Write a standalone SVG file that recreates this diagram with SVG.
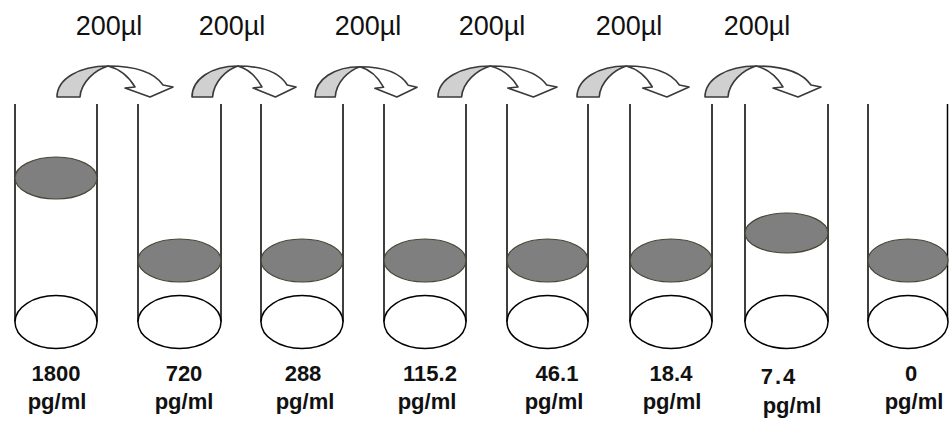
<svg xmlns="http://www.w3.org/2000/svg" xmlns:xlink="http://www.w3.org/1999/xlink" width="949" height="421" viewBox="0 0 949 421">
<style>
.wall{stroke:#000;stroke-width:1.5;fill:none}
.liq{fill:#7f7f7f;stroke:#4a4535;stroke-width:1.2}
.base{fill:#fff;stroke:#000;stroke-width:1.5}
.val{font-family:"Liberation Sans",Arial,sans-serif;font-weight:bold;font-size:22px;fill:#111;text-anchor:middle}
.vol{font-family:"Liberation Sans",Arial,sans-serif;font-size:27px;fill:#111;text-anchor:middle}
.back{fill:#d0d0d0;stroke:#3a3a3a;stroke-width:1.6;stroke-linejoin:round;vector-effect:non-scaling-stroke}
.front{fill:#fff;stroke:#3a3a3a;stroke-width:1.6;stroke-linejoin:round;vector-effect:non-scaling-stroke}
</style>
<defs>
<g id="curved">
<path class="back" d="M0,97 C0,79 22,66 51,66 C38,70 24,82 23,97 Z"/>
<path class="front" d="M51,66 C78,66 97,72 106,85 L116,87 L93,97 L68,88 L78,87 C72,77 63,69 51,66 Z"/>
</g>
</defs>
<rect width="949" height="421" fill="#fff"/>
<g id="connectors">
<use xlink:href="#curved" href="#curved" transform="translate(57,0)"/>
<use xlink:href="#curved" href="#curved" transform="translate(192,0) scale(0.897,1)"/>
<use xlink:href="#curved" href="#curved" transform="translate(315,2) scale(0.88,0.98)"/>
<use xlink:href="#curved" href="#curved" transform="translate(438,0) scale(1.026,1)"/>
<use xlink:href="#curved" href="#curved" transform="translate(577,0) scale(0.966,1)"/>
<use xlink:href="#curved" href="#curved" transform="translate(705,0)"/>
<text class="vol" x="109" y="35">200µl</text>
<text class="vol" x="232" y="35">200µl</text>
<text class="vol" x="368" y="35">200µl</text>
<text class="vol" x="492" y="35">200µl</text>
<text class="vol" x="629" y="35">200µl</text>
<text class="vol" x="757" y="35">200µl</text>
</g>
<g id="tube1">
<path class="wall" d="M15,104 V322 M97,104 V322"/>
<ellipse class="liq" cx="56" cy="178" rx="41" ry="21"/>
<ellipse class="base" cx="56" cy="322" rx="41" ry="26.5"/>
<text class="val" x="56" y="381">1800</text>
<text class="val" x="57" y="409">pg/ml</text>
</g>
<g id="tube2">
<path class="wall" d="M138,104 V322 M221,104 V322"/>
<ellipse class="liq" cx="179.5" cy="260.5" rx="41.5" ry="21.5"/>
<ellipse class="base" cx="179.5" cy="322" rx="41.5" ry="26.5"/>
<text class="val" x="184" y="381">720</text>
<text class="val" x="184" y="409">pg/ml</text>
</g>
<g id="tube3">
<path class="wall" d="M261,104 V322 M343,104 V322"/>
<ellipse class="liq" cx="302" cy="260.5" rx="41" ry="21.5"/>
<ellipse class="base" cx="302" cy="322" rx="41" ry="26.5"/>
<text class="val" x="303" y="381">288</text>
<text class="val" x="305" y="409">pg/ml</text>
</g>
<g id="tube4">
<path class="wall" d="M384,104 V322 M466,104 V322"/>
<ellipse class="liq" cx="425" cy="260.5" rx="41" ry="21.5"/>
<ellipse class="base" cx="425" cy="322" rx="41" ry="26.5"/>
<text class="val" x="430" y="381">115.2</text>
<text class="val" x="427" y="409">pg/ml</text>
</g>
<g id="tube5">
<path class="wall" d="M507,104 V322 M588,104 V322"/>
<ellipse class="liq" cx="547.5" cy="260.5" rx="40.5" ry="21.5"/>
<ellipse class="base" cx="547.5" cy="322" rx="40.5" ry="26.5"/>
<text class="val" x="557" y="381">46.1</text>
<text class="val" x="554" y="409">pg/ml</text>
</g>
<g id="tube6">
<path class="wall" d="M630,104 V322 M712,104 V322"/>
<ellipse class="liq" cx="671" cy="260.5" rx="41" ry="21.5"/>
<ellipse class="base" cx="671" cy="322" rx="41" ry="26.5"/>
<text class="val" x="671" y="381">18.4</text>
<text class="val" x="672" y="409">pg/ml</text>
</g>
<g id="tube7">
<path class="wall" d="M745,104 V322 M828,104 V322"/>
<ellipse class="liq" cx="786.5" cy="233" rx="41.5" ry="20"/>
<ellipse class="base" cx="786.5" cy="322" rx="41.5" ry="26.5"/>
<text class="val" x="779" y="384" letter-spacing="2">7.4</text>
<text class="val" x="792" y="413">pg/ml</text>
</g>
<g id="tube8">
<path class="wall" d="M868,104 V322 M947.5,104 V322"/>
<ellipse class="liq" cx="908" cy="260.5" rx="40" ry="21.5"/>
<ellipse class="base" cx="908" cy="322" rx="40" ry="26.5"/>
<text class="val" x="911" y="381">0</text>
<text class="val" x="914" y="409">pg/ml</text>
</g>
</svg>
